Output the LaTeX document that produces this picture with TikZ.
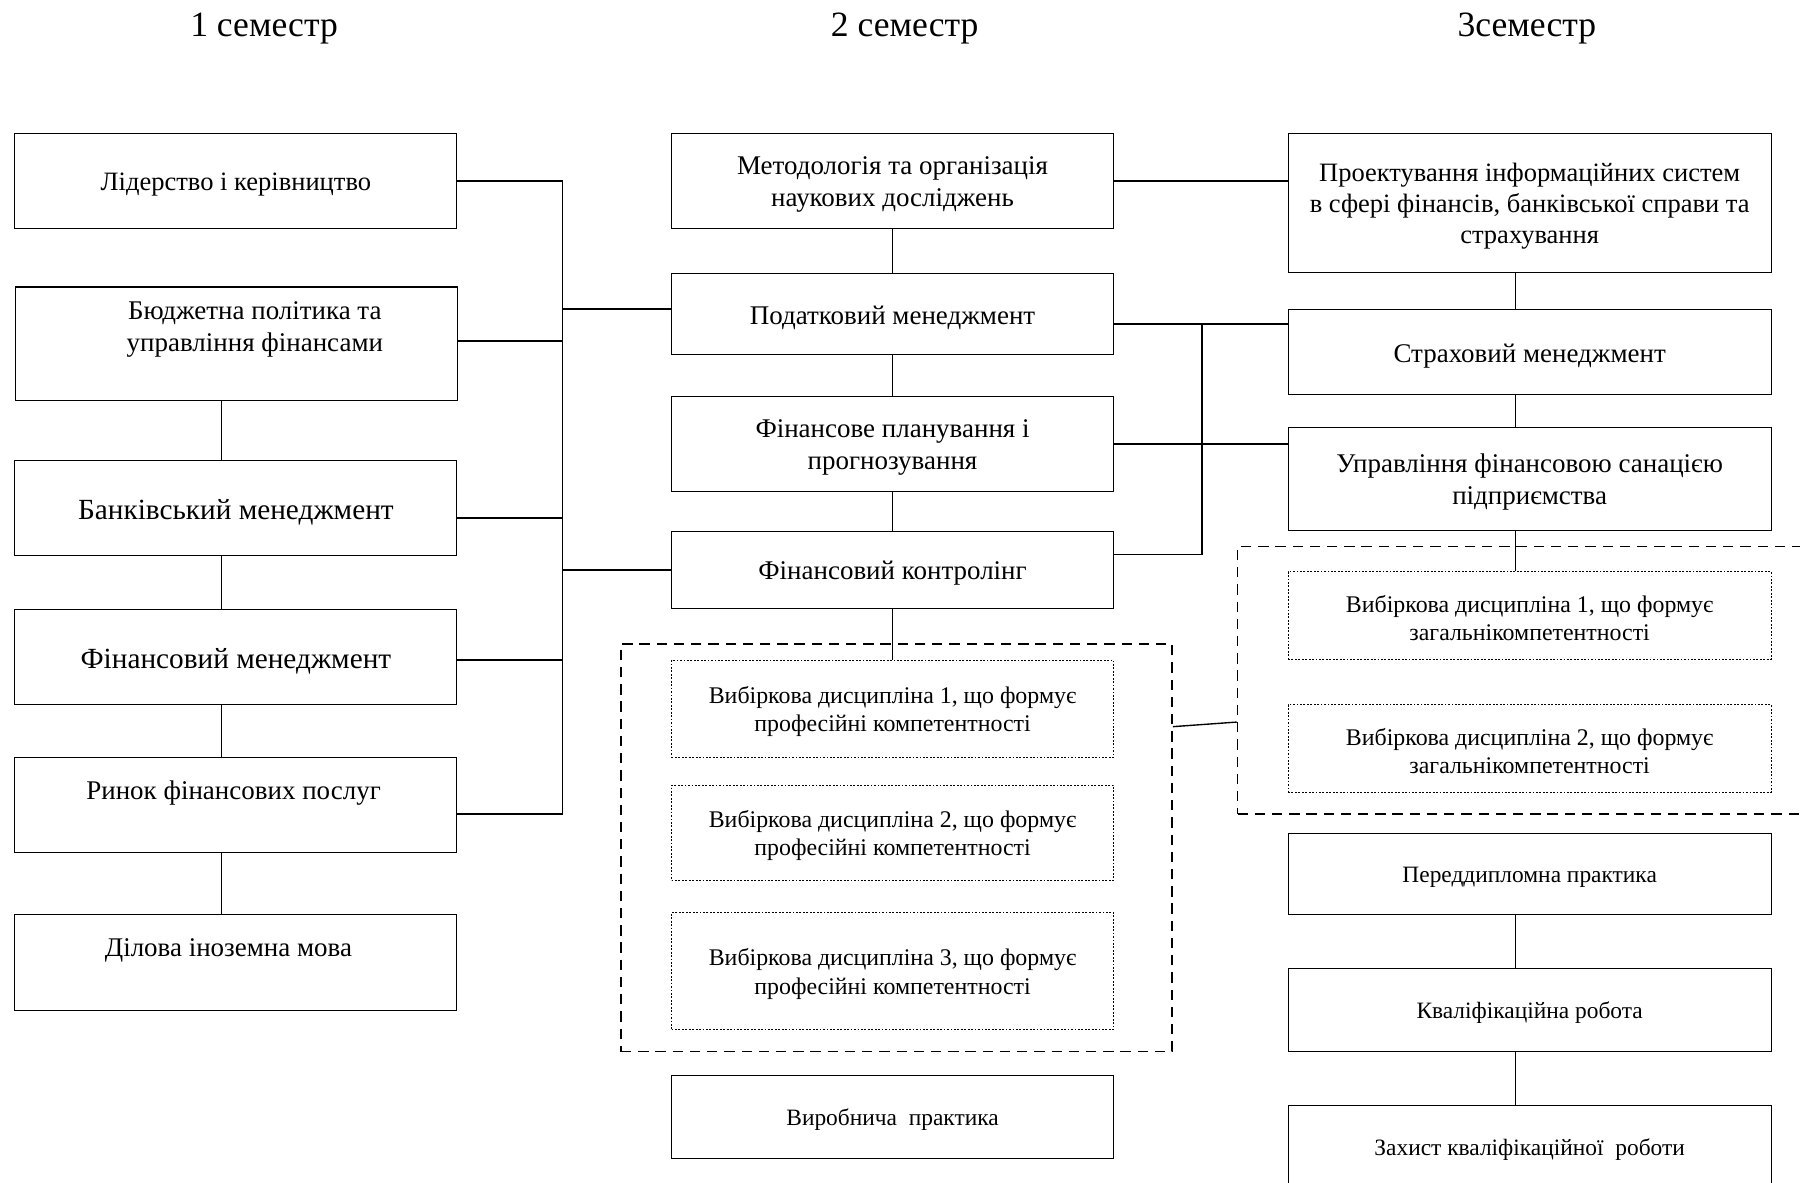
\documentclass[tikz,border=0pt]{standalone}
\usepackage{fontspec}
\setmainfont{Liberation Serif}
\tikzset{
  box/.style={draw, line width=0.9pt, minimum width=385pt, align=center, inner sep=0pt,
    execute at begin node={\rule{0pt}{0.95em}}},
  ml/.style={execute at begin node={\rule{0pt}{\dimexpr #1\baselineskip+0.95em\relax}}},
  rbox/.style={box, minimum width=421pt},
  opt/.style={dash pattern=on 1.6pt off 1.4pt, line width=0.7pt},
  grp/.style={draw, line width=1.4pt, dash pattern=on 9pt off 6pt},
  link/.style={line width=1.6pt},
  conn/.style={line width=1.2pt},
  f20/.style={font=\fontsize{20.4}{24}\selectfont},
  f21/.style={font=\fontsize{20.8}{24.5}\selectfont},
  f23/.style={font=\fontsize{23.5}{27.5}\selectfont},
  f23s/.style={font=\fontsize{23.1}{27.3}\selectfont},
  f25/.style={font=\fontsize{25.5}{30}\selectfont},
  f31/.style={font=\fontsize{31}{36}\selectfont}
}
\begin{document}
\begin{tikzpicture}[x=1pt, y=-1pt]
\clip (0,0) rectangle (1568,1030);
\node[f31] (sem1) at (230,25) {1 семестр};
\node[f31] (sem2) at (788,25) {2 семестр};
\node[f31] (sem3) at (1330,25) {3семестр};
\node[box, f23s, minimum height=83] (lid) at (205.5,157.5) {Лідерство і керівництво};
\node[box, minimum height=99] (bud) at (206,299.5) {};
\node[f23, align=center] (budt) at (222,287) {Бюджетна політика та\\управління фінансами};
\node[box, f25, minimum height=83] (ban) at (205.5,442.5) {Банківський менеджмент};
\node[box, f25, minimum height=83] (fmn) at (205.5,572.5) {Фінансовий менеджмент};
\node[box, minimum height=83] (rin) at (205.5,701.5) {};
\node[f23] (rint) at (203.5,691) {Ринок фінансових послуг};
\node[box, minimum height=83] (dil) at (205.5,838.5) {};
\node[f23] (dilt) at (199,828) {Ділова іноземна мова};
\draw[conn] ([xshift=-12.5pt]ban.north |- bud.south) -- ([xshift=-12.5pt]ban.north);
\draw[conn] ([xshift=-12.5pt]ban.south) -- ([xshift=-12.5pt]fmn.north);
\draw[conn] ([xshift=-12.5pt]fmn.south) -- ([xshift=-12.5pt]rin.north);
\draw[conn] ([xshift=-12.5pt]rin.south) -- ([xshift=-12.5pt]dil.north);
\node[box, ml=1, f23, minimum height=83] (met) at (777.5,157.5) {Методологія та організація\\наукових досліджень};
\node[box, f23, minimum height=71] (pod) at (777.5,273.5) {Податковий менеджмент};
\node[box, ml=1, f23, minimum height=83] (fpl) at (777.5,386.5) {Фінансове планування і\\прогнозування};
\node[box, f23, minimum height=67] (fkn) at (777.5,496.5) {Фінансовий контролінг};
\node[grp, minimum width=480, minimum height=355] (gm) at (781,738.5) {};
\node[box, ml=1, opt, f21, minimum height=85] (vp1) at (777.5,617.5) {Вибіркова дисципліна 1, що формує\\професійні компетентності};
\node[box, ml=1, opt, f21, minimum height=83] (vp2) at (777.5,725.5) {Вибіркова дисципліна 2, що формує\\професійні компетентності};
\node[box, ml=1, opt, f21, minimum height=102] (vp3) at (777.5,846) {Вибіркова дисципліна 3, що формує\\професійні компетентності};
\node[box, f20, minimum height=72] (vyr) at (777.5,973) {Виробнича~~практика};
\draw[conn] (met) -- (pod);
\draw[conn] (pod) -- (fpl);
\draw[conn] (fpl) -- (fkn);
\draw[conn] (fkn) -- (vp1);
\node[rbox, ml=2, f23s, minimum height=121] (pro) at (1332.5,176.5) {Проектування інформаційних систем\\в сфері фінансів, банківської справи та\\страхування};
\node[rbox, f23, minimum height=74] (str) at (1332.5,307) {Страховий менеджмент};
\node[rbox, ml=1, f23, minimum height=90] (upr) at (1332.5,417) {Управління фінансовою санацією\\підприємства};
\node[grp, minimum width=512, minimum height=233] (gr) at (1334,592.5) {};
\node[rbox, ml=1, opt, f21, minimum height=76] (vg1) at (1332.5,536) {Вибіркова дисципліна 1, що формує\\загальнікомпетентності};
\node[rbox, ml=1, opt, f21, minimum height=76] (vg2) at (1332.5,652) {Вибіркова дисципліна 2, що формує\\загальнікомпетентності};
\node[rbox, f20, minimum height=71] (prd) at (1332.5,761.5) {Переддипломна практика};
\node[rbox, f20, minimum height=72] (kva) at (1332.5,880) {Кваліфікаційна робота};
\node[rbox, f20, minimum height=72] (zah) at (1332.5,999) {Захист кваліфікаційної~~роботи};
\draw[conn] ([xshift=-12.5pt]pro.south) -- ([xshift=-12.5pt]str.north);
\draw[conn] ([xshift=-12.5pt]str.south) -- ([xshift=-12.5pt]upr.north);
\draw[conn] ([xshift=-12.5pt]upr.south) -- ([xshift=-12.5pt]vg1.north);
\draw[conn] ([xshift=-12.5pt]prd.south) -- ([xshift=-12.5pt]kva.north);
\draw[conn] ([xshift=-12.5pt]kva.south) -- ([xshift=-12.5pt]zah.north);
\coordinate (lbus) at (490,158);
\draw[link] (lbus) -- ([yshift=-7.5pt]rin.east -| lbus) -- ([yshift=-7.5pt]rin.east);
\draw[link] (lid.east) -- (lid.east -| lbus);
\draw[link] ([yshift=2.5pt]bud.east) -- ([yshift=2.5pt]bud.east -| lbus);
\draw[link] ([yshift=-8.5pt]ban.east) -- ([yshift=-8.5pt]ban.east -| lbus);
\draw[link] ([yshift=-2.5pt]fmn.east) -- ([yshift=-2.5pt]fmn.east -| lbus);
\draw[link] ([yshift=4.5pt]pod.west) -- ([yshift=4.5pt]pod.west -| lbus);
\draw[link] (fkn.west) -- (fkn.west -| lbus);
\draw[link] (met.east) -- (met.east -| pro.west);
\draw[link] ([yshift=-8.5pt]pod.east) -- ([yshift=-8.5pt]pod.east -| str.west);
\coordinate (mbus) at (1047,282);
\draw[link] (mbus) |- ([yshift=13.5pt]fkn.east);
\draw[link] (fpl.east) -- (fpl.east -| upr.west);
\draw[conn] ([yshift=105.5pt]gm.east) -- ([yshift=-36.5pt]gr.west);
\end{tikzpicture}
\end{document}
